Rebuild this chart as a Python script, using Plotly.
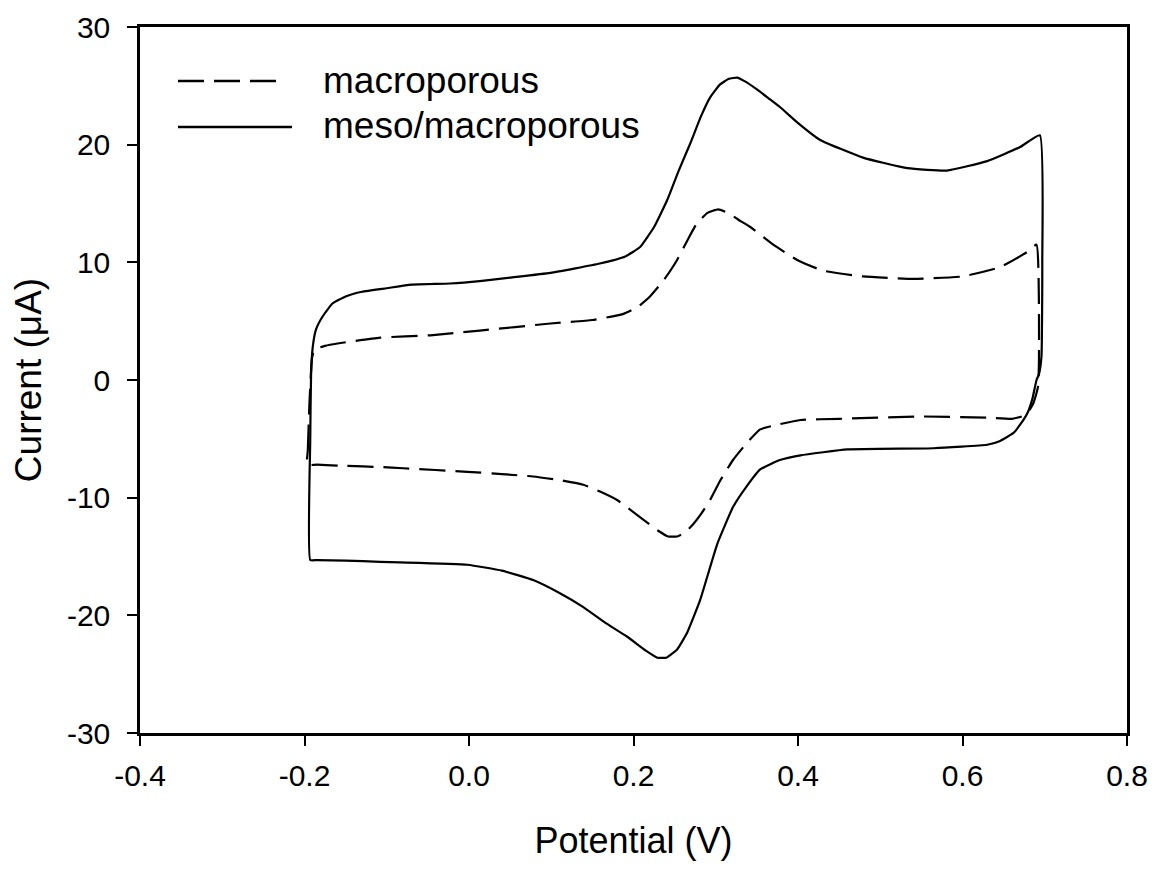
import plotly.graph_objects as go

# ---- data (Potential V, Current uA) ----
macro_x = [-0.197, -0.196, -0.194, -0.191, -0.188, -0.175, -0.16, -0.108, -0.047, 0.013, 0.099, 0.15,
           0.187, 0.205, 0.22, 0.237, 0.253, 0.265, 0.277, 0.29, 0.303, 0.315,
           0.328, 0.342, 0.37, 0.399, 0.43, 0.479, 0.54, 0.60, 0.646, 0.679,
           0.690, 0.693, 0.692, 0.690, 0.686, 0.680, 0.672, 0.66, 0.63, 0.55,
           0.45, 0.403, 0.375, 0.354, 0.336, 0.321, 0.305, 0.293, 0.282, 0.272,
           0.262, 0.253, 0.242, 0.232, 0.205, 0.18, 0.16, 0.139, 0.11, 0.078,
           0.04, -0.002, -0.08, -0.108, -0.15, -0.185, -0.197]
macro_y = [-7.2, -6.0, -2.0, 1.8, 2.6, 2.9, 3.1, 3.6, 3.8, 4.2, 4.8, 5.1,
           5.6, 6.2, 7.1, 8.5, 10.2, 11.8, 13.3, 14.2, 14.5, 14.2,
           13.6, 13.0, 11.5, 10.2, 9.3, 8.8, 8.6, 8.8, 9.6, 10.9,
           11.5, 2.0, -0.5, -1.1, -2.0, -2.7, -3.1, -3.3, -3.2, -3.1,
           -3.3, -3.4, -3.8, -4.2, -5.5, -6.8, -8.6, -10.2, -11.4, -12.3,
           -13.0, -13.3, -13.3, -12.9, -11.5, -10.2, -9.5, -8.9, -8.5, -8.2,
           -8.0, -7.8, -7.5, -7.4, -7.3, -7.2, -7.2]

meso_x = [-0.193, -0.193, -0.192, -0.19, -0.186, -0.178, -0.166, -0.15, -0.13, -0.10, -0.07,
          -0.023, 0.013, 0.05, 0.099, 0.159, 0.19, 0.208, 0.225, 0.241, 0.255,
          0.269, 0.282, 0.293, 0.305, 0.316, 0.326, 0.335, 0.35, 0.365, 0.378, 0.399,
          0.427, 0.479, 0.533, 0.581, 0.630, 0.670, 0.694, 0.697, 0.696, 0.693,
          0.690, 0.685, 0.679, 0.670, 0.662, 0.645, 0.630, 0.565, 0.46, 0.403,
          0.378, 0.354, 0.338, 0.321, 0.302, 0.281, 0.265, 0.253, 0.240, 0.229,
          0.215, 0.192, 0.165, 0.139, 0.11, 0.078, 0.04, -0.002, -0.084, -0.108,
          -0.15, -0.185, -0.193]
meso_y = [-15.3, -5.0, 0.5, 2.8, 4.3, 5.4, 6.5, 7.1, 7.5, 7.8, 8.1,
          8.2, 8.4, 8.7, 9.1, 9.9, 10.5, 11.3, 13.0, 15.3, 17.8,
          20.1, 22.4, 24.0, 25.1, 25.6, 25.7, 25.4, 24.7, 23.9, 23.2, 21.9,
          20.4, 18.9, 18.0, 17.8, 18.6, 19.8, 20.8, 10.0, 2.0, 0.5,
          0.0, -1.6, -2.8, -3.8, -4.5, -5.2, -5.5, -5.8, -5.9, -6.4,
          -6.8, -7.6, -9.0, -10.8, -13.9, -18.7, -21.5, -22.9, -23.6, -23.6,
          -23.0, -21.8, -20.6, -19.3, -18.1, -17.0, -16.2, -15.7, -15.5, -15.45,
          -15.35, -15.3, -15.3]

legend_labels = ["macroporous", "meso/macroporous"]
x_ticks = [-0.4, -0.2, 0.0, 0.2, 0.4, 0.6, 0.8]
x_tick_text = ["-0.4", "-0.2", "0.0", "0.2", "0.4", "0.6", "0.8"]
y_ticks = [-30, -20, -10, 0, 10, 20, 30]
y_tick_text = ["-30", "-20", "-10", "0", "10", "20", "30"]

FONT = "Liberation Sans, Arial, sans-serif"
DASH = "26px,10px"

fig = go.Figure()
fig.add_trace(go.Scatter(x=macro_x, y=macro_y, mode="lines", name=legend_labels[0],
                         line=dict(color="black", width=2.2, dash=DASH, shape="spline",
                                   smoothing=0.4), showlegend=False))
fig.add_trace(go.Scatter(x=meso_x, y=meso_y, mode="lines", name=legend_labels[1],
                         line=dict(color="black", width=2.2, shape="spline", smoothing=0.4),
                         showlegend=False))

# manual legend (long line samples like the reference)
def px_x(p):
    return (p - 140) / 987.0

def px_y(p):
    return (733 - p) / 706.0

fig.add_shape(type="line", xref="paper", yref="paper",
              x0=px_x(178), x1=px_x(284), y0=px_y(81), y1=px_y(81),
              line=dict(color="black", width=2.5, dash=DASH))
fig.add_shape(type="line", xref="paper", yref="paper",
              x0=px_x(178), x1=px_x(292), y0=px_y(127), y1=px_y(127),
              line=dict(color="black", width=2.5))
fig.add_annotation(xref="paper", yref="paper", x=px_x(321), y=px_y(80),
                   text=legend_labels[0], showarrow=False, xanchor="left", yanchor="middle",
                   font=dict(family=FONT, size=37, color="black"))
fig.add_annotation(xref="paper", yref="paper", x=px_x(321), y=px_y(126),
                   text=legend_labels[1], showarrow=False, xanchor="left", yanchor="middle",
                   font=dict(family=FONT, size=37, color="black"))

axis_common = dict(showgrid=False, zeroline=False, showline=True, linecolor="black",
                   linewidth=2.5, mirror=True, ticks="outside", ticklen=10, tickwidth=2,
                   tickcolor="black", tickfont=dict(family=FONT, size=30, color="black"))

fig.update_xaxes(range=[-0.4, 0.8], tickvals=x_ticks, ticktext=x_tick_text,
                 title=dict(text="Potential (V)", font=dict(family=FONT, size=36, color="black"),
                            standoff=38),
                 ticklabelstandoff=4, **axis_common)
fig.update_yaxes(range=[-30, 30], tickvals=y_ticks, ticktext=y_tick_text,
                 title=dict(text="Current (μA)", font=dict(family=FONT, size=37, color="black"),
                            standoff=16),
                 ticklabelstandoff=11, **axis_common)

fig.update_layout(width=1167, height=880, paper_bgcolor="white", plot_bgcolor="white",
                  margin=dict(l=132, r=48, t=19, b=155, autoexpand=False), showlegend=False,
                  font=dict(family=FONT, color="black"))

fig.write_html("out.html")
